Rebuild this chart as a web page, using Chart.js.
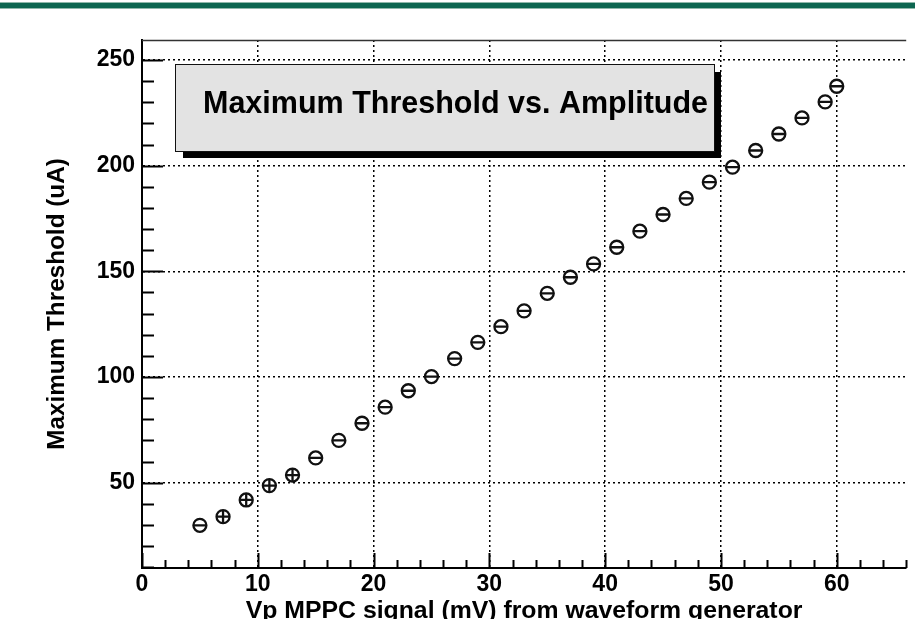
<!DOCTYPE html>
<html>
<head>
<meta charset="utf-8">
<script src="https://cdn.jsdelivr.net/npm/chart.js@4/dist/chart.umd.min.js"></script>
<style>
	html, body { margin: 0; padding: 0; background: #fff; overflow: hidden; }
	#bar { position: absolute; left: 0; top: 2px; width: 915px; height: 7px; background: #0d6650;
		border-top: 1px solid #8fb8aa; border-bottom: 1px solid #8fb8aa; box-sizing: border-box; }
	#wrap { position: absolute; left: 0; top: 0; width: 915px; height: 640px; }
</style>
</head>
<body>
<div id="bar"></div>
<div id="wrap"><canvas id="chart" width="915" height="640"></canvas></div>
<script>
"use strict";

// amplitude (mV) and max threshold (uA)
const amplitude = [5, 7, 9, 11, 13, 15, 17, 19, 21, 23, 25, 27, 29, 31, 33, 35, 37, 39, 41, 43, 45, 47, 49, 51, 53, 55, 57, 59, 60]
const threshold = [29.8, 33.9, 41.8, 48.6, 53.6, 61.7, 70.0, 78.1, 85.7, 93.5, 100.2, 108.7, 116.4, 123.8, 131.3, 139.6, 147.2, 153.5, 161.4, 169.0, 176.9, 184.5, 192.2, 199.3, 207.2, 215.0, 222.6, 230.2, 237.6]
// points whose y error bar shows through the marker
const withYErr = [7, 9, 11, 13]

const xTicks = [0, 10, 20, 30, 40, 50, 60]
const yTicks = [50, 100, 150, 200, 250]

const title = 'Maximum Threshold vs. Amplitude'
const xTitle = 'Vp MPPC signal (mV) from waveform generator'
const yTitle = 'Maximum Threshold (uA)'

const FONT = '"Liberation Sans", Arial, Helvetica, sans-serif'

const points = amplitude.map((x, i) => ({ x: x, y: threshold[i] }))

// ROOT style frame: inside ticks, top line, title pave
const frame = {
	id: 'frame',
	afterDraw(chart) {
		const ctx = chart.ctx
		const a = chart.chartArea
		const xs = chart.scales.x
		const ys = chart.scales.y
		ctx.save()
		ctx.strokeStyle = '#000'
		ctx.lineWidth = 2
		ctx.beginPath()
		for (let v = 0; v <= xs.max; v += 2) {
			const px = Math.round(xs.getPixelForValue(v)) + 0.5
			const len = v % 10 === 0 ? 15 : 8
			ctx.moveTo(px, a.bottom)
			ctx.lineTo(px, a.bottom - len)
		}
		for (let v = 10; v <= ys.max; v += 10) {
			const py = Math.round(ys.getPixelForValue(v)) + 0.5
			const len = v % 50 === 0 ? 21 : 12
			ctx.moveTo(a.left, py)
			ctx.lineTo(a.left + len, py)
		}
		ctx.stroke()
		ctx.lineWidth = 1.5
		ctx.strokeStyle = '#333'
		ctx.beginPath()
		ctx.moveTo(a.left, a.top + 0.5)
		ctx.lineTo(a.right, a.top + 0.5)
		ctx.stroke()

		// title box
		ctx.fillStyle = '#000'
		ctx.fillRect(183, 72, 538, 86)
		ctx.fillStyle = '#e3e3e3'
		ctx.fillRect(175.5, 64.5, 539, 87)
		ctx.lineWidth = 1
		ctx.strokeStyle = '#111'
		ctx.strokeRect(175.5, 64.5, 539, 87)
		ctx.fillStyle = '#000'
		ctx.font = 'bold 30.5px ' + FONT
		ctx.textBaseline = 'middle'
		ctx.textAlign = 'left'
		ctx.fillText(title, 203, 105)
		ctx.restore()
	}
}

const chart = new Chart(document.getElementById('chart'), {
	type: 'scatter',
	data: {
		datasets: [{
			data: points,
			order: 1,
			pointStyle: 'circle',
			pointRadius: 6.5,
			pointBorderWidth: 2.3,
			pointBorderColor: '#111',
			pointBackgroundColor: '#fff',
			pointHoverRadius: 6.5
		}, {
			data: points,
			order: 0,
			pointStyle: (c) => withYErr.includes(amplitude[c.dataIndex]) ? 'cross' : 'line',
			pointRadius: 6,
			pointBorderWidth: 2.3,
			pointBorderColor: '#111',
			pointHoverRadius: 6
		}]
	},
	options: {
		responsive: false,
		animation: false,
		layout: { padding: { left: 0, right: 0, top: 40, bottom: 0 } },
		plugins: { legend: { display: false }, tooltip: { enabled: false } },
		scales: {
			x: {
				type: 'linear',
				min: 0,
				max: 66,
				afterBuildTicks: (s) => { s.ticks = xTicks.map(v => ({ value: v })) },
				afterFit: (s) => { s.height = 72 },
				grid: {
					drawTicks: false,
					lineWidth: 1.5,
					color: (c) => c.tick && c.tick.value > 0 ? '#000' : 'rgba(0,0,0,0)'
				},
				border: { display: true, color: '#000', width: 2, dash: [2, 3] },
				ticks: {
					color: '#000',
					padding: 3,
					maxRotation: 0,
					autoSkip: false,
					font: { family: FONT, size: 23, weight: 'bold' }
				},
				title: {
					display: true,
					text: xTitle,
					color: '#000',
					padding: { top: 0, bottom: 14 },
					font: { family: FONT, size: 24.8, weight: 'bold' }
				}
			},
			y: {
				type: 'linear',
				min: 9.6,
				max: 259.5,
				afterBuildTicks: (s) => { s.ticks = yTicks.map(v => ({ value: v })) },
				afterFit: (s) => { s.width = 142 },
				grid: {
					drawTicks: false,
					lineWidth: 1.5,
					color: '#000'
				},
				border: { display: true, color: '#000', width: 2, dash: [2, 3] },
				ticks: {
					color: '#000',
					padding: 7,
					autoSkip: false,
					font: { family: FONT, size: 23, weight: 'bold' }
				},
				title: {
					display: true,
					text: yTitle,
					color: '#000',
					padding: { top: 43, bottom: 0 },
					font: { family: FONT, size: 24.3, weight: 'bold' }
				}
			}
		}
	},
	plugins: [frame]
})
</script>
</body>
</html>
